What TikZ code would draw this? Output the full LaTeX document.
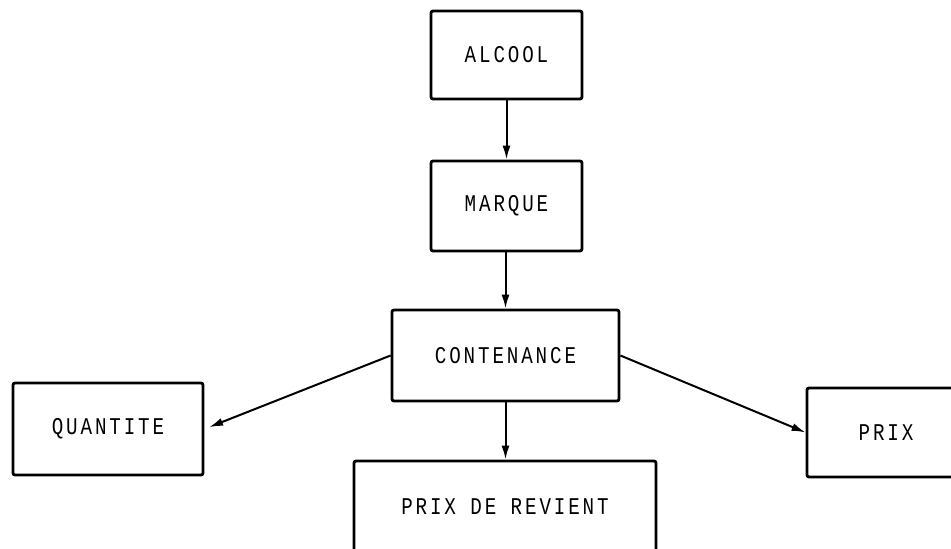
\documentclass[tikz,border=0pt]{standalone}
\usepackage{fontspec}
\newfontfamily\plotfont[FakeStretch=0.8,LetterSpace=12]{Liberation Mono}
\usetikzlibrary{arrows.meta}
\begin{document}
\begin{tikzpicture}[x=1pt,y=-1pt,
  box/.style={draw, line width=2.8pt, rounded corners=2pt, inner sep=0pt,
    font=\plotfont\fontsize{24}{26}\selectfont},
  link/.style={line width=2pt, -{Latex[length=14pt,width=8pt]}}]
  \useasboundingbox (0,0) rectangle (951,549);
  \clip (0,0) rectangle (951,549);
  \node[box, minimum width=151pt, minimum height=88pt] (alcool) at (506.5,55) {ALCOOL};
  \node[box, minimum width=151pt, minimum height=90pt] (marque) at (506.5,206) {MARQUE};
  \node[box, minimum width=227pt, minimum height=91pt] (cont) at (505.5,355.5) {CONTENANCE};
  \node[box, minimum width=190pt, minimum height=92pt] (quant) at (108,429) {QUANTITE};
  \node[box, minimum width=302pt, minimum height=92pt] (revient) at (505,507) {PRIX DE REVIENT};
  \node[box, minimum width=158pt, minimum height=89pt] (prix) at (886,432.5) {PRIX};
  \draw[link] (alcool) -- (marque);
  \draw[link] (cont.north |- marque.south) -- (cont.north);
  \draw[link] (cont.south) -- (revient.north -| cont.south);
  \draw[link, shorten >=5pt] (cont.west) -- (quant.east);
  \draw[link] (cont.east) -- (prix.west);
\end{tikzpicture}
\end{document}
